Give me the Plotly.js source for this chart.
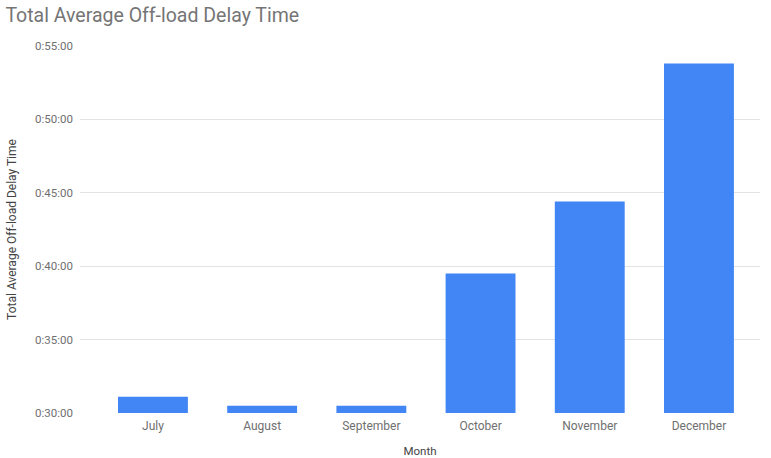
<!DOCTYPE html>
<html>
<head>
<meta charset="utf-8">
<script src="https://cdn.plot.ly/plotly-3.0.1.min.js"></script>
<style>
  html, body { margin: 0; padding: 0; background: #fff; }
  #chart { width: 771px; height: 458px; }
</style>
</head>
<body>
<div id="chart"></div>
<script>
// Monthly average off-load delay, in minutes
const months = ["July", "August", "September", "October", "November", "December"];
const delayMinutes = [31.1, 30.5, 30.5, 39.5, 44.4, 53.8];

// Y axis ticks (minutes) and their h:mm:ss labels
const tickMinutes = [30, 35, 40, 45, 50, 55];
const tickLabels = ["0:30:00", "0:35:00", "0:40:00", "0:45:00", "0:50:00", "0:55:00"];

const labelColor = "#6f6f6f";

const trace = {
  type: "bar",
  x: months,
  y: delayMinutes,
  marker: { color: "#4285F4" },
  width: 0.64,
  hoverinfo: "x+y"
};

const layout = {
  width: 771,
  height: 458,
  margin: { l: 80, r: 11, t: 46, b: 45 },
  paper_bgcolor: "#ffffff",
  plot_bgcolor: "#ffffff",
  font: { family: "Roboto, Arial, sans-serif", color: labelColor, size: 11 },
  title: {
    text: "Total Average Off-load Delay Time",
    font: { family: "Roboto, Arial, sans-serif", size: 19.5, color: "#757575" },
    x: 0.007, xanchor: "left", xref: "container",
    y: 0.966, yanchor: "middle", yref: "container"
  },
  xaxis: {
    type: "category",
    range: [-0.668, 5.559],
    showgrid: false,
    zeroline: false,
    showline: false,
    ticks: "",
    ticklabelstandoff: 4,
    tickfont: { size: 12, color: labelColor },
    title: { text: "Month", font: { size: 11.5, color: "#444" }, standoff: 19 }
  },
  yaxis: {
    range: [30, 55],
    tickvals: tickMinutes,
    ticktext: tickLabels,
    showgrid: true,
    gridcolor: "#e3e3e3",
    gridwidth: 1,
    zeroline: false,
    showline: false,
    ticks: "",
    ticklabelstandoff: 6,
    tickfont: { size: 11.5, color: labelColor },
    title: { text: "Total Average Off-load Delay Time", font: { size: 12, color: "#444" }, standoff: 15 }
  },
  showlegend: false,
  bargap: 0.36
};

Plotly.newPlot("chart", [trace], layout, { displayModeBar: false, staticPlot: true });
</script>
</body>
</html>
